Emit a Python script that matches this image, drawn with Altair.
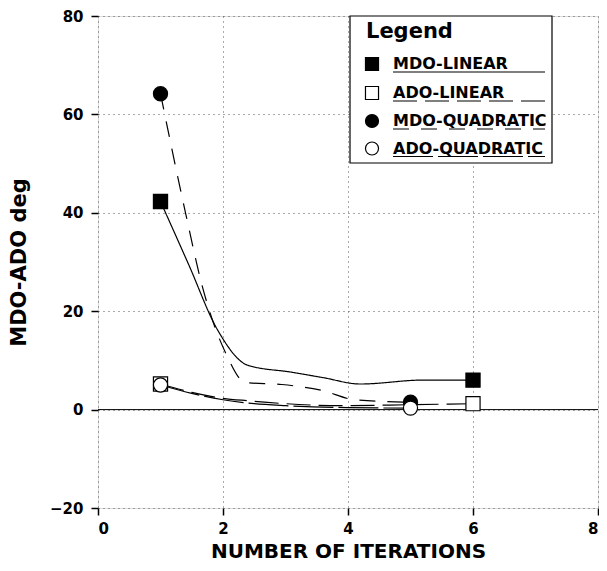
import altair as alt
import pandas as pd

# ---- data ----
series = ["MDO-LINEAR", "ADO-LINEAR", "MDO-QUADRATIC", "ADO-QUADRATIC"]

mdo_lin_x = [1, 1.45, 1.9, 2.4, 3.1, 3.6, 4.2, 5.2, 6]
mdo_lin_y = [42.3, 29.5, 16.5, 9.0, 7.6, 6.5, 5.2, 6.0, 6.0]

ado_lin_x = [1, 1.5, 2.0, 2.4, 3.0, 3.9, 5.0, 6]
ado_lin_y = [5.2, 3.5, 2.3, 1.8, 1.2, 0.8, 1.0, 1.2]

mdo_quad_x = [1, 1.4, 1.67, 2.05, 2.36, 2.94, 3.58, 4.11, 5]
mdo_quad_y = [64.2, 40.0, 25.0, 11.3, 5.5, 5.1, 3.9, 2.0, 1.5]

ado_quad_x = [1, 1.5, 2.0, 2.5, 3.0, 4.0, 5]
ado_quad_y = [5.0, 3.3, 2.0, 1.2, 0.8, 0.4, 0.3]

marker_x = {"MDO-LINEAR": [1, 6], "ADO-LINEAR": [1, 6],
            "MDO-QUADRATIC": [1, 5], "ADO-QUADRATIC": [1, 5]}
marker_y = {"MDO-LINEAR": [42.3, 6.0], "ADO-LINEAR": [5.2, 1.2],
            "MDO-QUADRATIC": [64.2, 1.5], "ADO-QUADRATIC": [5.0, 0.3]}

x_ticks = [0, 2, 4, 6, 8]
y_ticks = [-20, 0, 20, 40, 60, 80]

# ---- styles ----
shapes = ["square", "square", "circle", "circle"]
fills = ["black", "white", "black", "white"]
dashes = [[1, 0], [24, 8], [16, 12], [40, 5]]
FONT = "DejaVu Sans"

line_rows = []
for s, xs_, ys_ in [("MDO-LINEAR", mdo_lin_x, mdo_lin_y),
                    ("ADO-LINEAR", ado_lin_x, ado_lin_y),
                    ("MDO-QUADRATIC", mdo_quad_x, mdo_quad_y),
                    ("ADO-QUADRATIC", ado_quad_x, ado_quad_y)]:
    for i, (a, b) in enumerate(zip(xs_, ys_)):
        line_rows.append({"series": s, "x": a, "y": b, "order": i})
lines_df = pd.DataFrame(line_rows)

mark_rows = []
for s in series:
    for a, b in zip(marker_x[s], marker_y[s]):
        mark_rows.append({"series": s, "x": a, "y": b})
marks_df = pd.DataFrame(mark_rows)

xs = alt.Scale(domain=[0, 8], nice=False, zero=False)
ys = alt.Scale(domain=[-20, 80], nice=False, zero=False)

x_enc = alt.X("x:Q", scale=xs, axis=alt.Axis(
    values=x_ticks, format="d", title="NUMBER OF ITERATIONS", grid=True,
    gridDash=[1, 4], gridColor="#555", gridWidth=1,
    labelFont=FONT, labelFontSize=15, labelFontWeight="bold", labelColor="black",
    labelPadding=6, tickSize=7, tickColor="black", tickWidth=1.5, domain=False,
    titleFont=FONT, titleFontSize=20, titleFontWeight="bold", titleColor="black",
    titlePadding=5))
y_enc = alt.Y("y:Q", scale=ys, axis=alt.Axis(
    values=y_ticks, format="d", title="MDO-ADO deg", grid=True,
    gridDash=[1, 4], gridColor="#555", gridWidth=1,
    labelFont=FONT, labelFontSize=15, labelFontWeight="bold", labelColor="black",
    labelPadding=8, tickSize=7, tickColor="black", tickWidth=1.5, domain=False,
    titleFont=FONT, titleFontSize=21, titleFontWeight="bold", titleColor="black",
    titlePadding=20))

zero_rule = alt.Chart(pd.DataFrame({"y": [0]})).mark_rule(
    color="black", strokeWidth=1).encode(y=alt.Y("y:Q", scale=ys))

lines = alt.Chart(lines_df).mark_line(
    interpolate="monotone", color="black", strokeWidth=1.2).encode(
    x=x_enc, y=y_enc, detail="series:N", order="order:Q",
    strokeDash=alt.StrokeDash("series:N", scale=alt.Scale(domain=series, range=dashes),
                              legend=None))

points = alt.Chart(marks_df).mark_point(
    filled=True, size=200, stroke="black", strokeWidth=1.2, opacity=1).encode(
    x=alt.X("x:Q", scale=xs), y=alt.Y("y:Q", scale=ys),
    shape=alt.Shape("series:N", scale=alt.Scale(domain=series, range=shapes), legend=None),
    fill=alt.Fill("series:N", scale=alt.Scale(domain=series, range=fills), legend=None))

# ---- hand-drawn legend box (pixel positions inside the plot area) ----
leg_df = pd.DataFrame({"series": series, "ly": [48, 77, 105, 132.5]})
leg_df["uy"] = leg_df["ly"] + 8

box = alt.Chart(pd.DataFrame({"a": [0]})).mark_rect(
    fill="white", stroke="black", strokeWidth=1.2).encode(
    x=alt.value(252), x2=alt.value(454), y=alt.value(0), y2=alt.value(147))

leg_title = alt.Chart(pd.DataFrame({"t": ["Legend"]})).mark_text(
    font=FONT, fontSize=21, fontWeight="bold", align="left", baseline="alphabetic",
    color="black").encode(x=alt.value(268), y=alt.value(22), text="t:N")

leg_sym = alt.Chart(leg_df).mark_point(
    filled=True, size=170, stroke="black", strokeWidth=1.2, opacity=1).encode(
    x=alt.value(274), y=alt.Y("ly:Q", scale=None),
    shape=alt.Shape("series:N", scale=alt.Scale(domain=series, range=shapes), legend=None),
    fill=alt.Fill("series:N", scale=alt.Scale(domain=series, range=fills), legend=None))

leg_text = alt.Chart(leg_df).mark_text(
    font=FONT, fontSize=16, fontWeight="bold", align="left", baseline="middle",
    color="black").encode(
    x=alt.value(295), y=alt.Y("ly:Q", scale=None), text="series:N")

leg_line = alt.Chart(leg_df).mark_rule(color="black", strokeWidth=1.2).encode(
    x=alt.value(295), x2=alt.value(447), y=alt.Y("uy:Q", scale=None),
    strokeDash=alt.StrokeDash("series:N", scale=alt.Scale(domain=series, range=dashes),
                              legend=None))

chart = alt.layer(zero_rule, lines, points, box, leg_title, leg_sym, leg_text, leg_line
).properties(
    width=500, height=492,
    padding={"left": 90, "top": 8, "right": 1, "bottom": 55},
    autosize=alt.AutoSizeParams(type="none"),
).configure_view(stroke="black", strokeWidth=3
).configure(background="white")

chart.save("out.html", embed_options={"renderer": "svg", "actions": False})
